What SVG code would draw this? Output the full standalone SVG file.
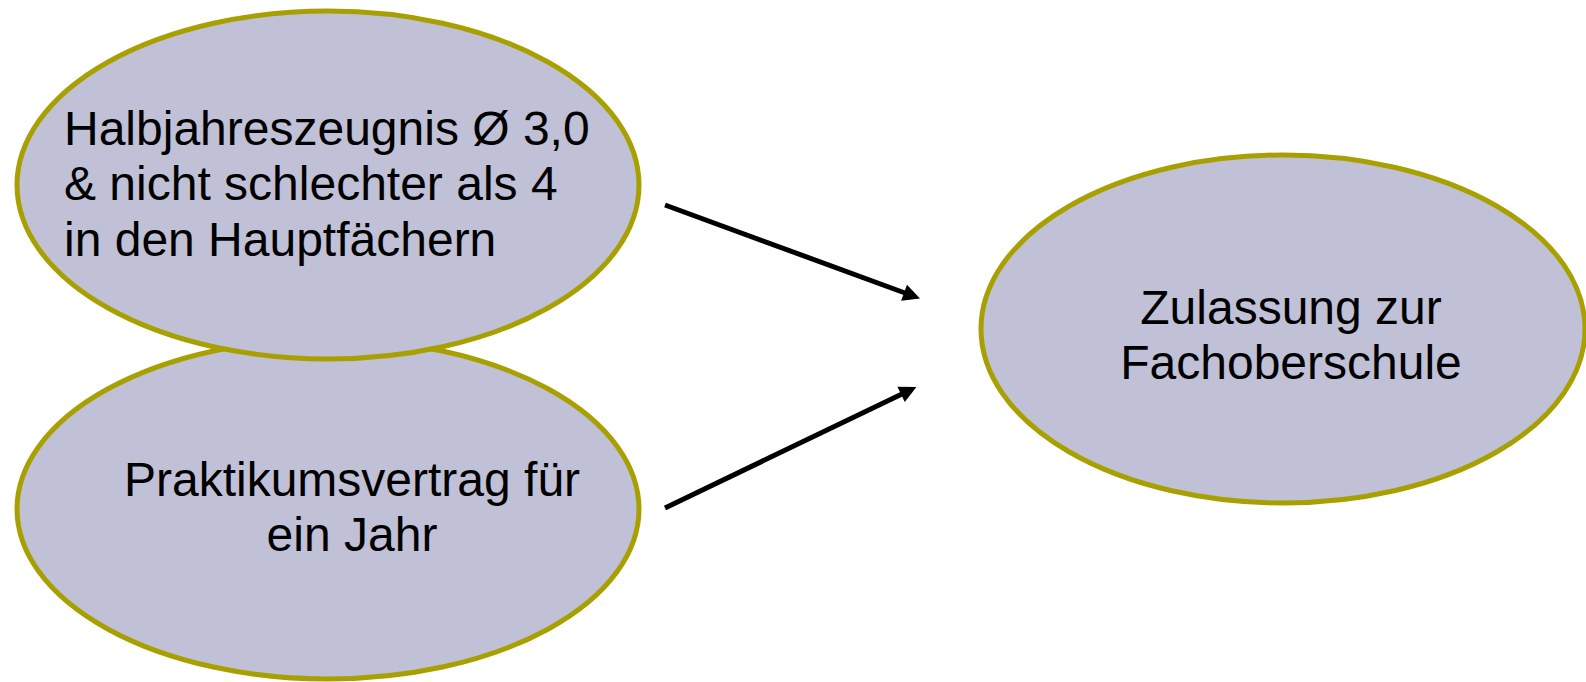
<svg xmlns="http://www.w3.org/2000/svg" width="1586" height="682" viewBox="0 0 1586 682">
<style>
.node ellipse{fill:#C0C0D6;stroke:#A8A000;stroke-width:5}
text{font-family:"Liberation Sans",Arial,sans-serif;font-size:48px;fill:#000}
.conn line{stroke:#000;stroke-width:5}
</style>
<defs>
<marker id="ah" markerUnits="userSpaceOnUse" markerWidth="20" markerHeight="18" refX="1" refY="8.5" orient="auto" overflow="visible">
<path d="M0,0 L17,8.5 L0,17 Z" fill="#000"/>
</marker>
</defs>
<g id="node-zulassung" class="node">
<ellipse cx="1283" cy="329" rx="302" ry="174"/>
<text x="1291" y="324" text-anchor="middle">Zulassung zur</text>
<text x="1291" y="379" text-anchor="middle">Fachoberschule</text>
</g>
<g id="node-praktikum" class="node">
<ellipse cx="328" cy="509" rx="311" ry="170"/>
<text x="352" y="496" text-anchor="middle">Praktikumsvertrag für</text>
<text x="352" y="551" text-anchor="middle">ein Jahr</text>
</g>
<g id="node-halbjahr" class="node">
<ellipse cx="328" cy="185" rx="311" ry="174"/>
<text x="64" y="145">Halbjahreszeugnis Ø 3,0</text>
<text x="64" y="200">&amp; nicht schlechter als 4</text>
<text x="64" y="256">in den Hauptfächern</text>
</g>
<g id="connectors" class="conn">
<line x1="665" y1="205" x2="905" y2="293" marker-end="url(#ah)"/>
<line x1="665" y1="508" x2="902" y2="394" marker-end="url(#ah)"/>
</g>
</svg>
